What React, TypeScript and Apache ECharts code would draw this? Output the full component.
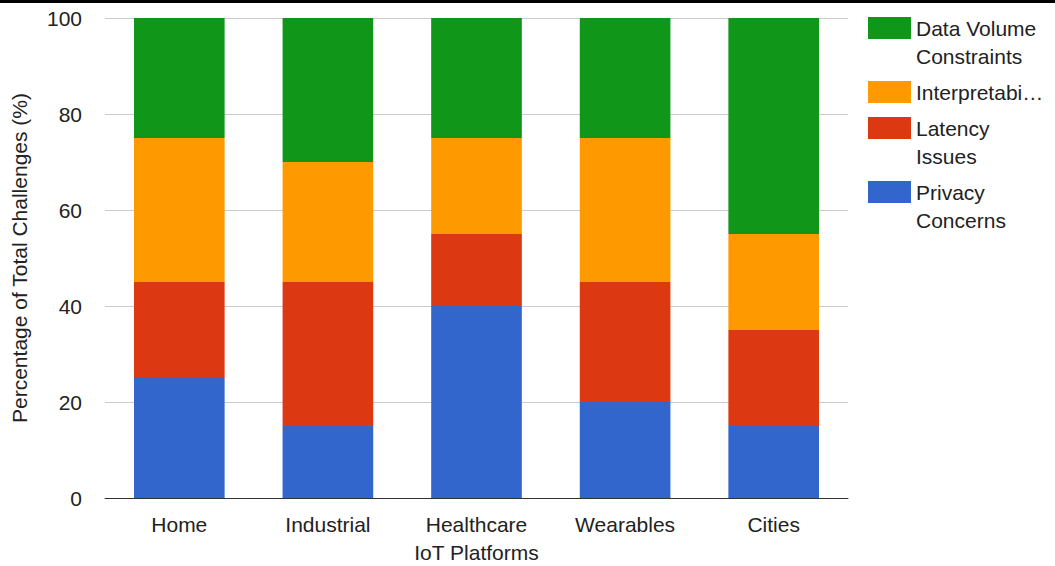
import React, { useEffect, useRef } from "react";
import * as echarts from "echarts";

const categories = ["Home", "Industrial", "Healthcare", "Wearables", "Cities"];
const privacy = [25, 15, 40, 20, 15];
const latency = [20, 30, 15, 25, 20];
const interpretability = [30, 25, 20, 30, 20];
const dataVolume = [25, 30, 25, 25, 45];
const yTicks = [0, 20, 40, 60, 80, 100];

const FONT = "Liberation Sans, Arial, sans-serif";
const FS = 21;

export default function App() {
  const ref = useRef<HTMLDivElement>(null);
  useEffect(() => {
    const chart = echarts.init(ref.current!, null, { renderer: "svg" });
    const legends: any[] = [];
    const extra: any[] = [];
    const mk = (name: string, first: string, second: string | null, c: number) => {
      legends.push({
        data: [name],
        orient: "vertical",
        left: 868,
        top: c - 14,
        itemWidth: 43,
        itemHeight: 22,
        itemGap: 0,
        padding: 0,
        icon: "rect",
        selectedMode: false,
        formatter: () => first,
        textStyle: { fontFamily: FONT, fontSize: FS, color: "#222", lineHeight: 28 },
      });
      if (second) {
        extra.push({
          type: "text",
          left: 916,
          top: c + 14,
          style: { text: second, fontFamily: FONT, fontSize: FS, fill: "#222", lineHeight: 28 },
        });
      }
    };
    mk("Data Volume Constraints", "Data Volume", "Constraints", 28);
    mk("Interpretability", "Interpretabi…", null, 92);
    mk("Latency Issues", "Latency", "Issues", 128);
    mk("Privacy Concerns", "Privacy", "Concerns", 192);

    const series = [
      { name: "Privacy Concerns", data: privacy, color: "#3366cc" },
      { name: "Latency Issues", data: latency, color: "#dc3912" },
      { name: "Interpretability", data: interpretability, color: "#ff9900" },
      { name: "Data Volume Constraints", data: dataVolume, color: "#109618" },
    ].map((s) => ({
      type: "bar",
      name: s.name,
      stack: "total",
      data: s.data,
      barWidth: "61%",
      itemStyle: { color: s.color },
    }));
    chart.setOption({
      animation: false,
      backgroundColor: "#fff",
      grid: { left: 105, right: 207, top: 18, bottom: 68, outerBoundsMode: "none", containLabel: false },
      legend: legends,
      xAxis: {
        type: "category",
        data: categories,
        name: "IoT Platforms",
        nameLocation: "middle",
        nameGap: 44,
        nameTextStyle: { fontFamily: FONT, fontSize: FS, color: "#222" },
        axisLine: { lineStyle: { color: "#333", width: 1 } },
        axisTick: { show: false },
        axisLabel: { fontFamily: FONT, fontSize: FS, color: "#222", margin: 16 },
      },
      yAxis: {
        type: "value",
        min: yTicks[0],
        max: yTicks[yTicks.length - 1],
        interval: 20,
        name: "Percentage of Total Challenges (%)",
        nameLocation: "middle",
        nameGap: 75,
        nameTextStyle: { fontFamily: FONT, fontSize: FS, color: "#222" },
        axisLine: { show: false },
        axisTick: { show: false },
        axisLabel: { fontFamily: FONT, fontSize: FS, color: "#222", margin: 23 },
        splitLine: { lineStyle: { color: "#cccccc" } },
      },
      graphic: [
        { type: "rect", left: 0, top: 0, shape: { width: 1055, height: 3 }, style: { fill: "#000" } },
        ...extra,
      ],
      series,
    });
    return () => chart.dispose();
  }, []);
  return (
    <div
      ref={ref}
      style={{ position: "fixed", left: 0, top: 0, width: 1055, height: 566 }}
    />
  );
}
